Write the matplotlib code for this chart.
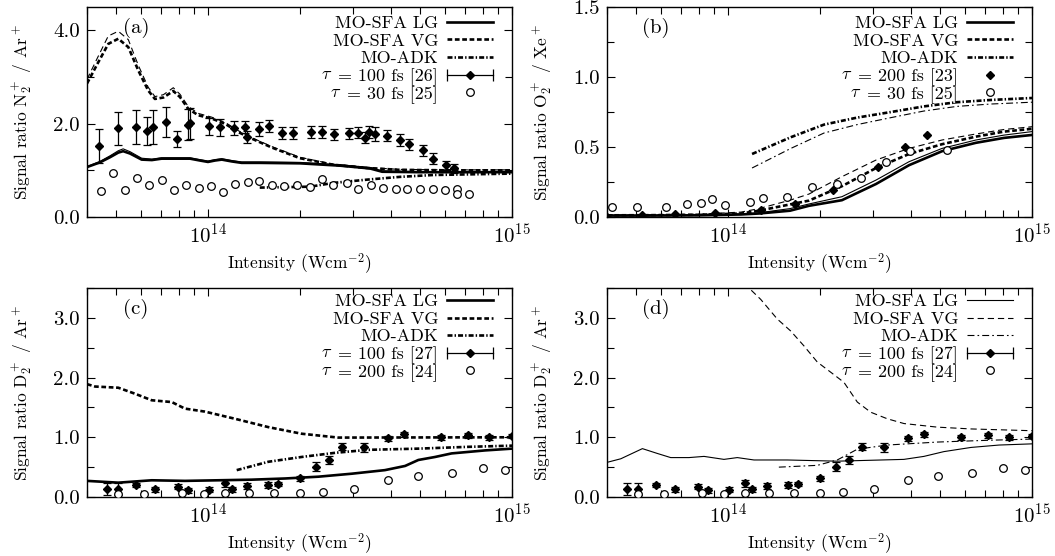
import numpy as np
import matplotlib
matplotlib.use('Agg')
import matplotlib.pyplot as plt
from matplotlib.lines import Line2D
from matplotlib.ticker import FixedLocator, FormatStrFormatter, LogLocator, NullFormatter

plt.rcParams['font.family'] = 'cmr10'
plt.rcParams['mathtext.fontset'] = 'cm'
plt.rcParams['axes.formatter.use_mathtext'] = True
plt.rcParams['axes.unicode_minus'] = False
plt.rcParams['lines.scale_dashes'] = False

# ---------------- Panel (a): N2+/Ar+ ----------------
a_lg_x = [4.0e13, 4.41e13, 4.76e13, 5.07e13, 5.26e13, 5.54e13, 6.05e13, 6.54e13, 7.04e13, 7.79e13,
          8.73e13, 9.41e13, 1.0e14, 1.054e14, 1.11e14, 1.199e14, 1.29e14, 1.48e14, 2.007e14, 2.72e14,
          3.41e14, 3.74e14, 4.98e14, 1.0e15]
a_lg_thick = [1.07, 1.17, 1.28, 1.38, 1.41, 1.36, 1.23, 1.22, 1.25, 1.25, 1.25, 1.21, 1.18, 1.21, 1.23,
              1.19, 1.16, 1.16, 1.15, 1.10, 1.04, 0.97, 0.96, 0.96]
a_lg_thin = [1.08, 1.19, 1.31, 1.42, 1.46, 1.40, 1.26, 1.24, 1.27, 1.27, 1.27, 1.23, 1.20, 1.23, 1.25,
             1.21, 1.18, 1.18, 1.17, 1.12, 1.06, 0.99, 0.97, 0.97]
a_vg_x = [4.0e13, 4.36e13, 4.70e13, 5.07e13, 5.47e13, 5.90e13, 6.36e13, 6.69e13, 7.13e13, 7.69e13,
          8.09e13, 8.61e13, 9.29e13, 1.028e14, 1.137e14, 1.258e14, 1.393e14, 1.62e14, 2.007e14,
          2.584e14, 3.33e14, 4.28e14, 6.25e14, 1.0e15]
a_vg_thick = [2.86, 3.32, 3.71, 3.82, 3.64, 3.14, 2.71, 2.53, 2.56, 2.70, 2.57, 2.32, 2.18, 2.11, 2.00,
              1.82, 1.68, 1.49, 1.26, 1.12, 1.05, 1.01, 1.00, 1.00]
a_vg_thin = [2.95, 3.45, 3.88, 3.98, 3.80, 3.25, 2.78, 2.58, 2.62, 2.77, 2.63, 2.37, 2.22, 2.14, 2.03,
             1.85, 1.70, 1.51, 1.28, 1.13, 1.06, 1.02, 1.01, 1.01]
a_adk_x = [1.48e14, 2.17e14, 2.58e14, 3.33e14, 4.28e14, 5.5e14, 1.0e15]
a_adk_y = [0.63, 0.65, 0.73, 0.80, 0.86, 0.90, 0.93]
a_exp1_x = [4.38e13, 5.06e13, 5.80e13, 6.30e13, 6.61e13, 7.29e13, 7.91e13, 8.61e13, 8.70e13, 1.01e14,
            1.095e14, 1.22e14, 1.327e14, 1.347e14, 1.468e14, 1.59e14, 1.755e14, 1.904e14, 2.177e14,
            2.377e14, 2.603e14, 2.916e14, 3.122e14, 3.292e14, 3.385e14, 3.542e14, 3.89e14, 4.27e14,
            4.59e14, 5.09e14, 5.51e14, 6.07e14, 6.45e14]
a_exp1_y = [1.52, 1.90, 1.93, 1.84, 1.93, 2.04, 1.67, 1.98, 2.01, 1.94, 1.92, 1.91, 1.93, 1.72, 1.88,
            1.95, 1.80, 1.80, 1.82, 1.82, 1.77, 1.79, 1.81, 1.70, 1.82, 1.77, 1.74, 1.65, 1.56, 1.43,
            1.25, 1.11, 1.04]
a_exp1_err = [0.37, 0.36, 0.36, 0.30, 0.36, 0.32, 0.18, 0.33, 0.33, 0.18, 0.18, 0.15, 0.13, 0.13, 0.15,
              0.13, 0.12, 0.12, 0.12, 0.12, 0.12, 0.12, 0.12, 0.12, 0.12, 0.15, 0.12, 0.12, 0.12, 0.12,
              0.12, 0.10, 0.10]
a_exp2_x = [4.44e13, 4.86e13, 5.33e13, 5.85e13, 6.41e13, 7.04e13, 7.73e13, 8.47e13, 9.32e13, 1.02e14,
            1.12e14, 1.227e14, 1.35e14, 1.475e14, 1.627e14, 1.78e14, 1.963e14, 2.165e14, 2.366e14,
            2.584e14, 2.86e14, 3.12e14, 3.43e14, 3.77e14, 4.14e14, 4.52e14, 4.99e14, 5.48e14, 6.0e14,
            6.58e14, 6.58e14, 7.24e14]
a_exp2_y = [0.56, 0.95, 0.58, 0.83, 0.69, 0.79, 0.58, 0.68, 0.63, 0.66, 0.53, 0.71, 0.74, 0.78, 0.68,
            0.66, 0.69, 0.65, 0.81, 0.68, 0.72, 0.59, 0.68, 0.63, 0.59, 0.61, 0.61, 0.60, 0.58, 0.59,
            0.49, 0.49]

# ---------------- Panel (b): O2+/Xe+ ----------------
b_x = [4.0e13, 5.5e13, 8.03e13, 1.104e14, 1.265e14, 1.6e14, 1.847e14, 2.37e14, 3.07e14, 3.94e14,
       5.06e14, 6.54e14, 8.09e14, 1.0e15]
b_lg_thick = [0.010, 0.010, 0.012, 0.018, 0.025, 0.045, 0.080, 0.120, 0.236, 0.370, 0.470, 0.530, 0.565, 0.586]
b_lg_thin = [0.012, 0.013, 0.015, 0.022, 0.030, 0.060, 0.093, 0.145, 0.264, 0.395, 0.490, 0.550, 0.585, 0.610]
b_vg_thick = [0.012, 0.013, 0.016, 0.025, 0.045, 0.090, 0.117, 0.220, 0.350, 0.450, 0.520, 0.574, 0.610, 0.630]
b_vg_thin = [0.015, 0.016, 0.020, 0.035, 0.060, 0.120, 0.164, 0.288, 0.407, 0.490, 0.550, 0.593, 0.625, 0.645]
b_adk_x = [1.2e14, 1.61e14, 2.07e14, 2.66e14, 3.44e14, 4.41e14, 5.66e14, 7.33e14, 1.0e15]
b_adk_thick = [0.45, 0.57, 0.66, 0.71, 0.75, 0.79, 0.82, 0.836, 0.85]
b_adk_thin = [0.35, 0.49, 0.60, 0.66, 0.71, 0.757, 0.79, 0.807, 0.82]
b_exp1_x = [3.96e13, 5.23e13, 6.69e13, 9.06e13, 1.28e14, 1.66e14, 2.22e14, 3.11e14, 3.82e14, 4.5e14]
b_exp1_y = [0.005, 0.015, 0.02, 0.03, 0.05, 0.09, 0.19, 0.36, 0.50, 0.585]
b_exp2_x = [4.16e13, 5.03e13, 6.24e13, 7.35e13, 8.13e13, 8.88e13, 9.75e13, 1.179e14, 1.306e14,
            1.56e14, 1.89e14, 2.29e14, 2.73e14, 3.32e14, 3.96e14, 5.26e14]
b_exp2_y = [0.074, 0.07, 0.074, 0.095, 0.10, 0.126, 0.086, 0.105, 0.136, 0.145, 0.216, 0.233, 0.28,
            0.39, 0.47, 0.48]

# ---------------- Panel (c): D2+/Ar+ ----------------
c_vg_x = [4.0e13, 4.25e13, 5.07e13, 5.75e13, 6.53e13, 7.6e13, 8.4e13, 9.77e13, 1.227e14, 1.58e14,
          2.03e14, 2.68e14, 1.0e15]
c_vg_y = [1.89, 1.85, 1.83, 1.73, 1.62, 1.59, 1.48, 1.43, 1.31, 1.17, 1.06, 0.995, 1.0]
c_lg_x = [4.0e13, 5.07e13, 6.53e13, 8.4e13, 1.081e14, 1.39e14, 1.792e14, 2.306e14, 2.97e14, 3.82e14,
          4.45e14, 4.92e14, 5.58e14, 6.33e14, 8.15e14, 1.0e15]
c_lg_y = [0.27, 0.24, 0.28, 0.27, 0.28, 0.29, 0.31, 0.34, 0.39, 0.45, 0.52, 0.62, 0.67, 0.73, 0.78, 0.81]
c_adk_x = [1.243e14, 1.58e14, 2.03e14, 2.62e14, 3.37e14, 4.92e14, 7.18e14, 1.0e15]
c_adk_y = [0.45, 0.59, 0.67, 0.74, 0.79, 0.81, 0.84, 0.86]

# experimental D2+ data, shared by (c) and (d)
d2_exp1_x = [4.64e13, 5.07e13, 5.8e13, 6.69e13, 7.99e13, 8.61e13, 1.008e14, 1.137e14, 1.197e14,
             1.347e14, 1.572e14, 1.703e14, 2.007e14, 2.266e14, 2.506e14, 2.766e14, 3.252e14,
             3.919e14, 4.423e14, 5.84e14, 7.18e14, 8.42e14, 9.98e14]
d2_exp1_y = [0.13, 0.14, 0.20, 0.13, 0.17, 0.11, 0.12, 0.23, 0.13, 0.19, 0.20, 0.22, 0.31, 0.51, 0.62,
             0.84, 0.83, 0.98, 1.05, 1.00, 1.03, 1.00, 1.02]
d2_exp1_err = [0.10, 0.10, 0.04, 0.04, 0.04, 0.04, 0.04, 0.06, 0.04, 0.05, 0.05, 0.03, 0.04, 0.07,
               0.06, 0.06, 0.07, 0.04, 0.04, 0.04, 0.04, 0.04, 0.03]
d2_exp2_x = [5.07e13, 6.17e13, 8.19e13, 9.72e13, 1.137e14, 1.364e14, 1.652e14, 2.007e14, 2.394e14,
             3.03e14, 3.90e14, 4.9e14, 6.33e14, 8.05e14, 9.48e14]
d2_exp2_y = [0.045, 0.05, 0.06, 0.05, 0.06, 0.06, 0.07, 0.07, 0.09, 0.14, 0.28, 0.35, 0.41, 0.49, 0.45]

# ---------------- Panel (d): D2+/Ar+ (thin) ----------------
d_vg_x = [1.129e14, 1.281e14, 1.453e14, 1.608e14, 1.778e14, 1.967e14, 2.177e14, 2.407e14, 2.663e14,
          2.947e14, 3.342e14, 3.793e14, 4.88e14, 6.28e14, 1.0e15]
d_vg_y = [3.58, 3.31, 2.98, 2.78, 2.53, 2.26, 2.09, 1.92, 1.59, 1.42, 1.31, 1.23, 1.17, 1.14, 1.11]
d_lg_x = [4.0e13, 4.44e13, 5.23e13, 5.85e13, 6.48e13, 7.44e13, 8.34e13, 9.7e13, 1.073e14, 1.218e14,
          1.567e14, 2.288e14, 3.79e14, 4.41e14, 5.13e14, 6.3e14, 7.79e14, 1.0e15]
d_lg_y = [0.58, 0.64, 0.81, 0.73, 0.66, 0.66, 0.68, 0.63, 0.66, 0.62, 0.62, 0.60, 0.63, 0.68, 0.76,
          0.83, 0.87, 0.89]
d_adk_x = [1.47e14, 1.967e14, 2.288e14, 2.663e14, 3.342e14, 4.88e14, 7.2e14, 1.0e15]
d_adk_y = [0.50, 0.53, 0.62, 0.80, 0.87, 0.92, 0.95, 0.97]

# ---------------- Labels ----------------
panel_tags = ['(a)', '(b)', '(c)', '(d)']
ylabels = [r'Signal ratio N$_2^+$ / Ar$^+$', r'Signal ratio O$_2^+$ / Xe$^+$',
           r'Signal ratio D$_2^+$ / Ar$^+$', r'Signal ratio D$_2^+$ / Ar$^+$']
xlabel = r'Intensity (Wcm$^{-2}$)'
theory_labels = ['MO-SFA LG', 'MO-SFA VG', 'MO-ADK']
TAU = r'$\tau$'
exp_labels = [['= 100 fs [26]', '= 30 fs [25]'],
              ['= 200 fs [23]', '= 30 fs [25]'],
              ['= 100 fs [27]', '= 200 fs [24]'],
              ['= 100 fs [27]', '= 200 fs [24]']]

# ---------------- Styles ----------------
THICK = 1.9
THIN = 0.8
DASH = (0, (3.4, 1.9))
DASHDOT = (0, (3.6, 1.5, 1.0, 1.5))
DASH_THIN = (0, (4.5, 2.8))
DASHDOT_THIN = (0, (5.0, 2.2, 1.2, 2.2))
TICKFS = 15
LABELFS = 12.5
LEGFS = 13

W, H = 1055, 556
fig = plt.figure(figsize=(W / 100, H / 100), dpi=100)
boxes = [(87, 7, 512, 217), (607, 7, 1032, 217), (87, 288, 512, 497), (607, 288, 1032, 497)]
axes = []
for (l, t, r, b) in boxes:
    axes.append(fig.add_axes([l / W, 1 - b / H, (r - l) / W, (b - t) / H]))

ylims = [(0, 4.5), (0, 1.5), (0, 3.5), (0, 3.5)]
ymajor = [[0, 2, 4], [0, 0.5, 1.0, 1.5], [0, 1, 2, 3], [0, 1, 2, 3]]
yminor = [[1, 3], [0.25, 0.75, 1.25], [0.5, 1.5, 2.5, 3.5], [0.5, 1.5, 2.5, 3.5]]
key_top = [0.930, 0.930, 0.943, 0.943]
KEY_DY = 0.0842
KEY_TEXT_X = 0.826
KEY_X0, KEY_X1 = 0.847, 0.955


def style_axes(ax, i):
    ax.set_xscale('log')
    ax.set_xlim(4e13, 1e15)
    ax.set_ylim(*ylims[i])
    ax.xaxis.set_major_locator(FixedLocator([1e14, 1e15]))
    ax.xaxis.set_minor_locator(LogLocator(base=10, subs=np.arange(2, 10), numticks=20))
    ax.xaxis.set_minor_formatter(NullFormatter())
    ax.yaxis.set_major_locator(FixedLocator(ymajor[i]))
    ax.yaxis.set_minor_locator(FixedLocator(yminor[i]))
    ax.yaxis.set_major_formatter(FormatStrFormatter('%.1f'))
    ax.tick_params(which='both', direction='in', top=True, right=True, labelsize=TICKFS, width=0.8)
    ax.tick_params(which='major', length=6)
    ax.tick_params(axis='x', which='major', pad=4)
    ax.tick_params(axis='y', which='major', pad=5)
    ax.tick_params(which='minor', length=5)
    for s in ax.spines.values():
        s.set_linewidth(1.0)
    ax.set_xlabel(xlabel, fontsize=LABELFS, labelpad=3)
    ax.set_ylabel(ylabels[i], fontsize=LABELFS, labelpad=14)
    ax.text(0.115, 0.9, panel_tags[i], transform=ax.transAxes, fontsize=TICKFS,
            ha='center', va='center')


def draw_key(ax, i, entries):
    """Legend drawn as a key: text right-aligned, sample to its right."""
    xm = 0.5 * (KEY_X0 + KEY_X1)
    for k, (label, kind, kw) in enumerate(entries):
        y = key_top[i] - KEY_DY * k
        t = ax.text(KEY_TEXT_X, y, label, transform=ax.transAxes, ha='right',
                    va='center_baseline', fontsize=LEGFS)
        if kind != 'line':
            # Greek tau in math italics, placed just left of "= ..."
            ax.annotate(TAU, xy=(0, 0), xycoords=t, xytext=(-4.2, 2.9),
                        textcoords='offset points', ha='right', va='bottom', fontsize=LEGFS)
        if kind == 'line':
            ax.add_line(Line2D([KEY_X0, KEY_X1], [y, y], transform=ax.transAxes, color='k', **kw))
        elif kind == 'err':
            ax.add_line(Line2D([KEY_X0, KEY_X1], [y, y], transform=ax.transAxes, color='k', lw=0.9))
            ax.add_line(Line2D([KEY_X0, KEY_X1], [y, y], transform=ax.transAxes, ls='none',
                               marker='|', ms=9, mew=0.9, color='k'))
            ax.add_line(Line2D([xm], [y], transform=ax.transAxes, ls='none', marker='D',
                               ms=4, color='k'))
        elif kind == 'diamond':
            ax.add_line(Line2D([xm], [y], transform=ax.transAxes, ls='none', marker='D',
                               ms=4, color='k'))
        elif kind == 'circle':
            ax.add_line(Line2D([xm], [y], transform=ax.transAxes, ls='none', marker='o',
                               ms=5.5, mfc='white', mec='k', mew=0.9))


def plot_exp_err(ax, x, y, e):
    ax.errorbar(x, y, yerr=e, fmt='D', ms=4, color='k', ecolor='k', elinewidth=0.9,
                capsize=3.1, capthick=0.9, zorder=4)


def plot_circles(ax, x, y):
    ax.plot(x, y, ls='none', marker='o', ms=5.5, mfc='white', mec='k', mew=0.9, zorder=5)


thick_keys = [dict(lw=THICK), dict(lw=THICK, ls=DASH), dict(lw=THICK, ls=DASHDOT)]
thin_keys = [dict(lw=THIN), dict(lw=THIN, ls=DASH_THIN), dict(lw=THIN, ls=DASHDOT_THIN)]

# ---- (a)
ax = axes[0]
style_axes(ax, 0)
ax.plot(a_lg_x, a_lg_thin, color='k', lw=THIN)
ax.plot(a_lg_x, a_lg_thick, color='k', lw=THICK)
ax.plot(a_vg_x, a_vg_thin, color='k', lw=THIN, ls=DASH_THIN)
ax.plot(a_vg_x, a_vg_thick, color='k', lw=THICK, ls=DASH)
ax.plot(a_adk_x, a_adk_y, color='k', lw=THICK, ls=DASHDOT)
plot_exp_err(ax, a_exp1_x, a_exp1_y, a_exp1_err)
plot_circles(ax, a_exp2_x, a_exp2_y)
draw_key(ax, 0, [(theory_labels[j], 'line', thick_keys[j]) for j in range(3)] +
         [(exp_labels[0][0], 'err', {}), (exp_labels[0][1], 'circle', {})])

# ---- (b)
ax = axes[1]
style_axes(ax, 1)
ax.plot(b_x, b_lg_thin, color='k', lw=THIN)
ax.plot(b_x, b_lg_thick, color='k', lw=THICK)
ax.plot(b_x, b_vg_thin, color='k', lw=THIN, ls=DASH_THIN)
ax.plot(b_x, b_vg_thick, color='k', lw=THICK, ls=DASH)
ax.plot(b_adk_x, b_adk_thin, color='k', lw=THIN, ls=DASHDOT_THIN)
ax.plot(b_adk_x, b_adk_thick, color='k', lw=THICK, ls=DASHDOT)
ax.plot(b_exp1_x, b_exp1_y, ls='none', marker='D', ms=4, color='k', zorder=4)
plot_circles(ax, b_exp2_x, b_exp2_y)
draw_key(ax, 1, [(theory_labels[j], 'line', thick_keys[j]) for j in range(3)] +
         [(exp_labels[1][0], 'diamond', {}), (exp_labels[1][1], 'circle', {})])

# ---- (c)
ax = axes[2]
style_axes(ax, 2)
ax.plot(c_lg_x, c_lg_y, color='k', lw=THICK)
ax.plot(c_vg_x, c_vg_y, color='k', lw=THICK, ls=DASH)
ax.plot(c_adk_x, c_adk_y, color='k', lw=THICK, ls=DASHDOT)
plot_exp_err(ax, d2_exp1_x, d2_exp1_y, d2_exp1_err)
plot_circles(ax, d2_exp2_x, d2_exp2_y)
draw_key(ax, 2, [(theory_labels[j], 'line', thick_keys[j]) for j in range(3)] +
         [(exp_labels[2][0], 'err', {}), (exp_labels[2][1], 'circle', {})])

# ---- (d)
ax = axes[3]
style_axes(ax, 3)
ax.plot(d_lg_x, d_lg_y, color='k', lw=THIN)
ax.plot(d_vg_x, d_vg_y, color='k', lw=THIN, ls=DASH_THIN)
ax.plot(d_adk_x, d_adk_y, color='k', lw=THIN, ls=DASHDOT_THIN)
plot_exp_err(ax, d2_exp1_x, d2_exp1_y, d2_exp1_err)
plot_circles(ax, d2_exp2_x, d2_exp2_y)
draw_key(ax, 3, [(theory_labels[j], 'line', thin_keys[j]) for j in range(3)] +
         [(exp_labels[3][0], 'err', {}), (exp_labels[3][1], 'circle', {})])

fig.savefig('out.png', dpi=100, facecolor='white')
